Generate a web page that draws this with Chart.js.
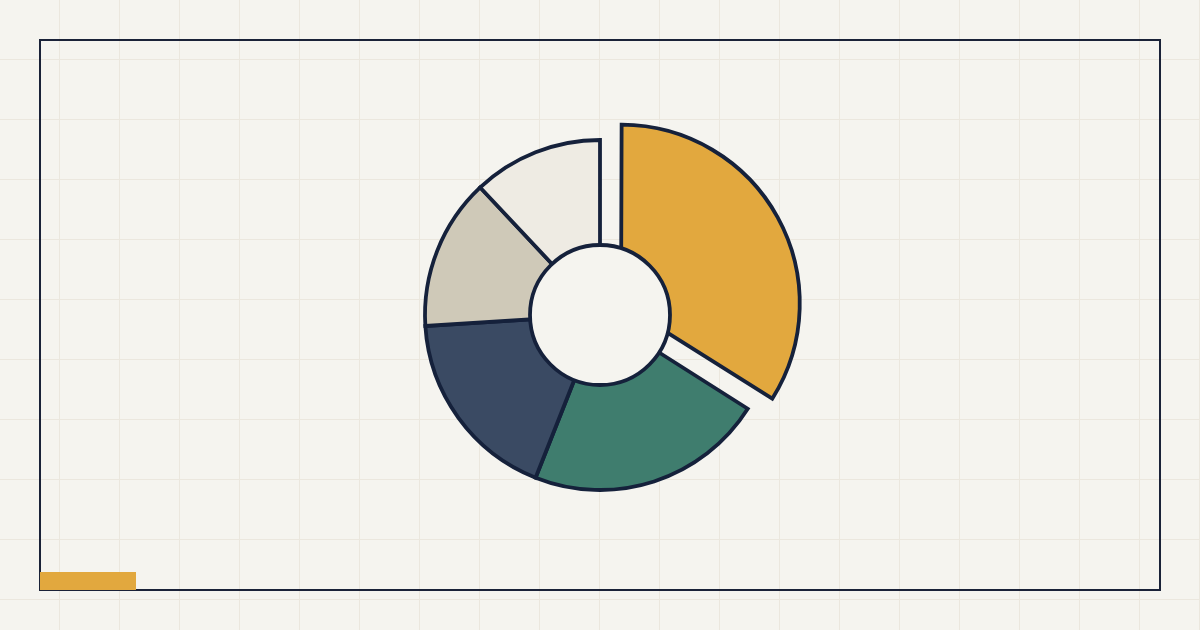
<!DOCTYPE html>
<html>
<head>
<meta charset="utf-8">
<script src="https://cdn.jsdelivr.net/npm/chart.js@4"></script>
<style>
  html, body {
    margin: 0;
    padding: 0;
    width: 1200px;
    height: 630px;
    overflow: hidden;
    background-color: #f5f4ef;
    background-image:
      linear-gradient(to right, transparent 59px, #ebe7de 59px, #ebe7de 61px, transparent 61px),
      linear-gradient(to bottom, transparent 59px, #ebe7de 59px, #ebe7de 61px, transparent 61px);
    background-size: 60px 60px;
    background-position: 0 0;
  }
  #frame {
    position: absolute;
    box-sizing: border-box;
    left: 39px;
    top: 39px;
    width: 1122px;
    height: 552px;
    border: 2px solid #1a2238;
  }
  #tag {
    position: absolute;
    left: 40px;
    top: 572px;
    width: 96px;
    height: 18px;
    background: #e2a83e;
  }
  #chart {
    position: absolute;
    left: 40px;
    top: 40px;
  }
</style>
</head>
<body>
<div id="frame"></div>
<canvas id="chart" width="1120" height="550"></canvas>
<div id="tag"></div>
<script>
    // chart data
    var categories = ['A', 'B', 'C', 'D', 'E'];
    var shares = [34, 22, 18, 14, 12];
    var sliceColors = ['#e2a83e', '#3f7d6e', '#3a4a63', '#cfc9b8', '#eeebe3'];
    var sliceOffsets = [96, 0, 0, 0, 0];

    var outlineColor = '#15213b';
    var paperColor = '#f5f4ef';
    var holeRatio = 0.4;

    // draws the centre hole on top so the pulled-out slice meets it cleanly
    var holePlugin = {
        id: 'hole',
        afterDatasetsDraw: function (chart) {
            var meta = chart.getDatasetMeta(0);
            var arc = meta.data[1];
            if (!arc) {
                return;
            }
            var ctx = chart.ctx;
            ctx.save();
            ctx.beginPath();
            ctx.arc(arc.x, arc.y, arc.outerRadius * holeRatio, 0, Math.PI * 2);
            ctx.fillStyle = paperColor;
            ctx.fill();
            ctx.lineWidth = 3.8;
            ctx.strokeStyle = outlineColor;
            ctx.stroke();
            ctx.restore();
        }
    };

    var ctx = document.getElementById('chart').getContext('2d');
    var shareChart = new Chart(ctx, {
        type: 'doughnut',
        data: {
            labels: categories,
            datasets: [{
                data: shares,
                backgroundColor: sliceColors,
                borderColor: outlineColor,
                borderWidth: 3.8,
                offset: sliceOffsets,
                borderJoinStyle: 'miter'
            }]
        },
        options: {
            responsive: false,
            animation: false,
            radius: 175,
            cutout: '20%',
            plugins: {
                legend: { display: false },
                tooltip: { enabled: false }
            }
        },
        plugins: [holePlugin]
    });
</script>
</body>
</html>
